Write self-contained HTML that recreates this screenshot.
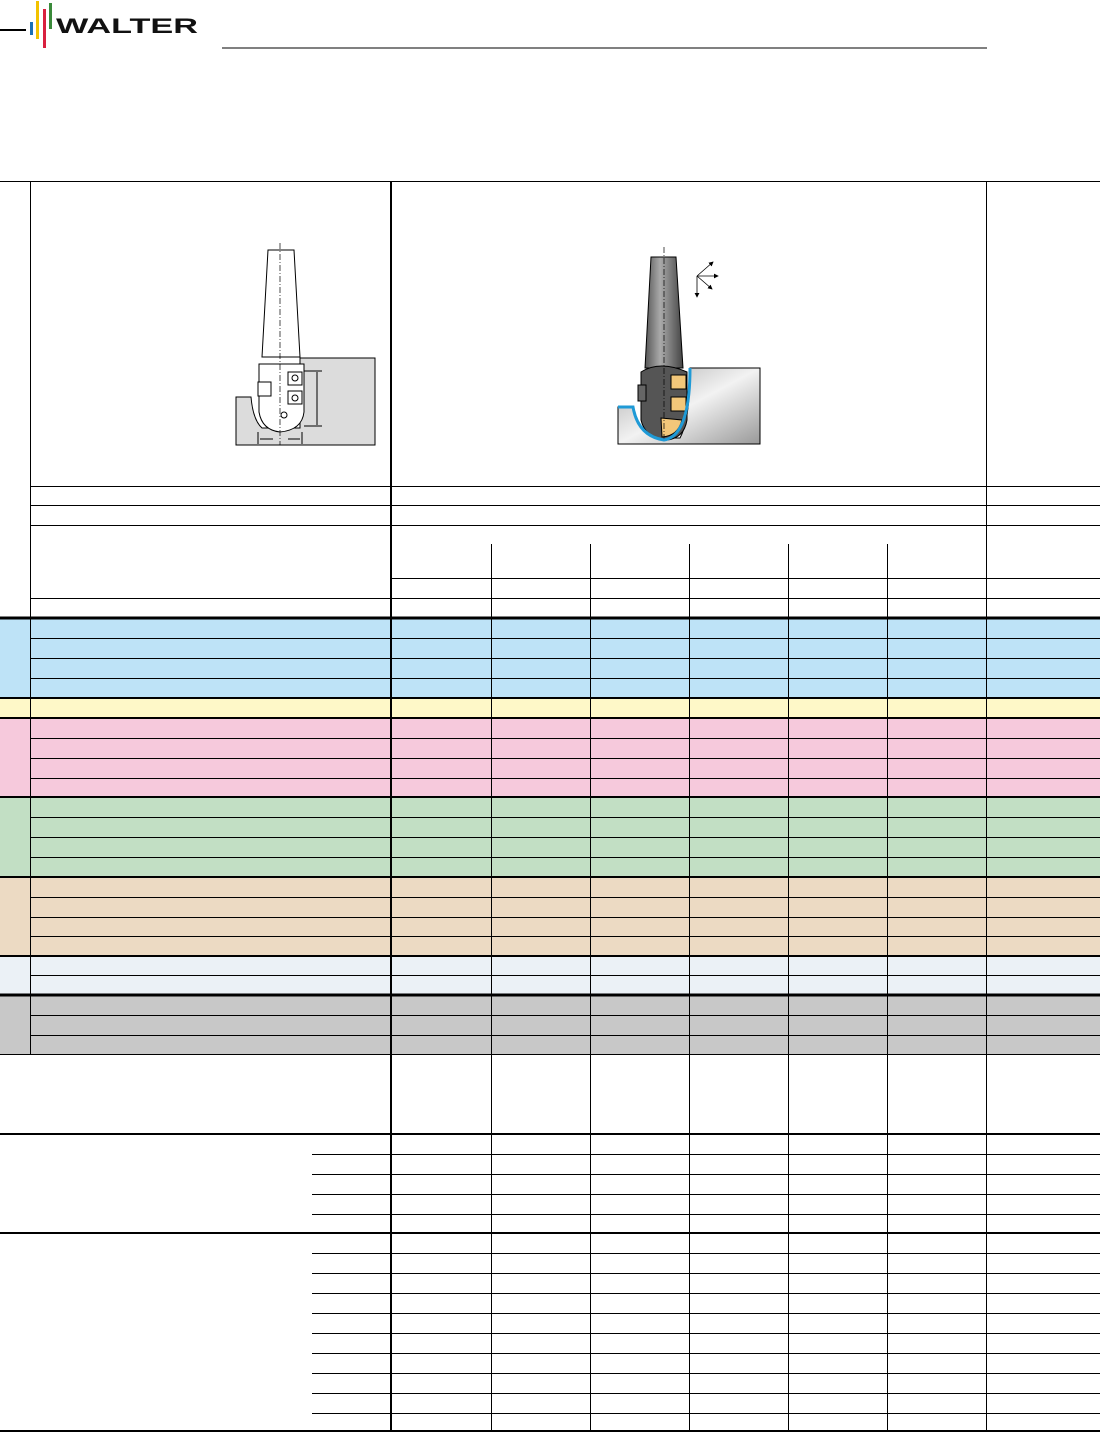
<!DOCTYPE html>
<html><head><meta charset="utf-8"><style>
html,body{margin:0;padding:0;background:#fff}
svg{display:block}
</style></head><body>
<svg width="1100" height="1432" viewBox="0 0 1100 1432" xmlns="http://www.w3.org/2000/svg">
<defs>
<linearGradient id="wp" x1="0" y1="0" x2="1" y2="1"><stop offset="0" stop-color="#aaa"/><stop offset="0.5" stop-color="#f2f2f2"/><stop offset="1" stop-color="#999"/></linearGradient>
<linearGradient id="sh" x1="0" y1="0" x2="1" y2="0"><stop offset="0" stop-color="#555"/><stop offset="0.4" stop-color="#aaa"/><stop offset="1" stop-color="#444"/></linearGradient>
<marker id="ah" markerWidth="6" markerHeight="6" refX="5" refY="3" orient="auto"><path d="M0 0 L6 3 L0 6 Z" fill="#000"/></marker>
</defs>
<!-- logo -->
<line x1="0" y1="30" x2="26" y2="30" stroke="#000" stroke-width="2"/>
<rect x="30" y="22" width="3" height="13" fill="#1a6fb5"/>
<rect x="36" y="1" width="3" height="38" fill="#f2c200"/>
<rect x="43" y="9" width="3" height="39" fill="#d9203f"/>
<rect x="49" y="3" width="3" height="26" fill="#3a8a3a"/>
<text x="56" y="33" font-family="Liberation Sans, sans-serif" font-size="21" font-weight="bold" fill="#111" textLength="142" lengthAdjust="spacingAndGlyphs">WALTER</text>
<line x1="222" y1="48" x2="987" y2="48" stroke="#000" stroke-width="1"/>

<!-- colored bands -->
<rect x="0" y="618" width="1100" height="80" fill="#bee3f7"/>
<rect x="0" y="698" width="1100" height="20" fill="#fef8c8"/>
<rect x="0" y="718" width="1100" height="79" fill="#f6c9dc"/>
<rect x="0" y="797" width="1100" height="80" fill="#c2dfc4"/>
<rect x="0" y="877" width="1100" height="79" fill="#ecdac3"/>
<rect x="0" y="956" width="1100" height="39" fill="#ebf1f6"/>
<rect x="0" y="995" width="1100" height="59" fill="#c8c8c8"/>

<g stroke="#000" fill="none" shape-rendering="crispEdges">
<line x1="0" y1="181.5" x2="1100" y2="181.5" stroke-width="1"/>
<line x1="30.5" y1="181" x2="30.5" y2="1054"/>
<line x1="391" y1="181" x2="391" y2="1432" stroke-width="2"/>
<line x1="986.5" y1="181" x2="986.5" y2="1432"/>
<line x1="30" y1="486.5" x2="1100" y2="486.5"/>
<line x1="30" y1="505.5" x2="1100" y2="505.5"/>
<line x1="30" y1="525.5" x2="1100" y2="525.5"/>
<line x1="391" y1="578.5" x2="1100" y2="578.5"/>
<line x1="30" y1="598.5" x2="1100" y2="598.5"/>
<g>
<line x1="491.5" y1="544" x2="491.5" y2="1432"/>
<line x1="590.5" y1="544" x2="590.5" y2="1432"/>
<line x1="689.5" y1="544" x2="689.5" y2="1432"/>
<line x1="788.5" y1="544" x2="788.5" y2="1432"/>
<line x1="887.5" y1="544" x2="887.5" y2="1432"/>
</g>
<line x1="0" y1="618" x2="1100" y2="618" stroke-width="3"/>
<g stroke-width="1">
<line x1="30" y1="638.5" x2="1100" y2="638.5"/>
<line x1="30" y1="658.5" x2="1100" y2="658.5"/>
<line x1="30" y1="678.5" x2="1100" y2="678.5"/>
<line x1="30" y1="738.5" x2="1100" y2="738.5"/>
<line x1="30" y1="758.5" x2="1100" y2="758.5"/>
<line x1="30" y1="778.5" x2="1100" y2="778.5"/>
<line x1="30" y1="817.5" x2="1100" y2="817.5"/>
<line x1="30" y1="837.5" x2="1100" y2="837.5"/>
<line x1="30" y1="857.5" x2="1100" y2="857.5"/>
<line x1="30" y1="897.5" x2="1100" y2="897.5"/>
<line x1="30" y1="917.5" x2="1100" y2="917.5"/>
<line x1="30" y1="936.5" x2="1100" y2="936.5"/>
<line x1="30" y1="975.5" x2="1100" y2="975.5"/>
<line x1="30" y1="1015.5" x2="1100" y2="1015.5"/>
<line x1="30" y1="1035.5" x2="1100" y2="1035.5"/>
</g>
<g stroke-width="2">
<line x1="0" y1="698" x2="1100" y2="698"/>
<line x1="0" y1="718" x2="1100" y2="718"/>
<line x1="0" y1="797" x2="1100" y2="797"/>
<line x1="0" y1="877" x2="1100" y2="877"/>
<line x1="0" y1="956" x2="1100" y2="956"/>
<line x1="0" y1="995" x2="1100" y2="995" stroke-width="3"/>
<line x1="0" y1="1054.5" x2="1100" y2="1054.5" stroke-width="1"/>
</g>
<line x1="0" y1="1134" x2="1100" y2="1134" stroke-width="2"/>
<line x1="0" y1="1233" x2="1100" y2="1233" stroke-width="2"/>
<line x1="0" y1="1431" x2="1100" y2="1431" stroke-width="2"/>
<g stroke-width="1">
<line x1="312" y1="1154.5" x2="1100" y2="1154.5"/>
<line x1="312" y1="1174.5" x2="1100" y2="1174.5"/>
<line x1="312" y1="1194.5" x2="1100" y2="1194.5"/>
<line x1="312" y1="1214.5" x2="1100" y2="1214.5"/>
<line x1="312" y1="1253.5" x2="1100" y2="1253.5"/>
<line x1="312" y1="1273.5" x2="1100" y2="1273.5"/>
<line x1="312" y1="1293.5" x2="1100" y2="1293.5"/>
<line x1="312" y1="1313.5" x2="1100" y2="1313.5"/>
<line x1="312" y1="1333.5" x2="1100" y2="1333.5"/>
<line x1="312" y1="1353.5" x2="1100" y2="1353.5"/>
<line x1="312" y1="1373.5" x2="1100" y2="1373.5"/>
<line x1="312" y1="1393.5" x2="1100" y2="1393.5"/>
<line x1="312" y1="1413.5" x2="1100" y2="1413.5"/>
</g>
</g>

<!-- left drawing -->
<g stroke="#000" stroke-width="1">
<path d="M236 397 H251 Q253 420 262 428 L300 428 V358 H375 V445 H236 Z" fill="#dcdcdc"/>
<path d="M268 250 H294 L300 357 H262 Z" fill="#fff"/>
<line x1="262" y1="357" x2="300" y2="357"/>
<path d="M259 364 V412 Q262 430 280 432 Q302 430 304 412 V364 Z" fill="#fff"/>
<rect x="258" y="382" width="13" height="14" fill="#fff"/>
<rect x="288" y="372" width="14" height="13" fill="#fff"/>
<rect x="288" y="391" width="14" height="13" fill="#fff"/>
<circle cx="295" cy="378" r="3" fill="none"/>
<circle cx="295" cy="398" r="3" fill="none"/>
<circle cx="284" cy="415" r="3" fill="none"/>
<line x1="280" y1="243" x2="280" y2="445" stroke-dasharray="6,2,1,2" stroke-width="0.7"/>
<line x1="304" y1="371" x2="322" y2="371"/>
<line x1="304" y1="426" x2="322" y2="426"/>
<line x1="317" y1="372" x2="317" y2="425"/>
<line x1="258" y1="432" x2="258" y2="444"/>
<line x1="302" y1="432" x2="302" y2="444"/>
<line x1="260" y1="439" x2="273" y2="439"/>
<line x1="288" y1="439" x2="300" y2="439"/>
</g>

<!-- right drawing -->
<g stroke="#000" stroke-width="1">
<path d="M618 407 H633 Q637 432 660 438 L680 438 Q690 420 690 368 H760 V444 H618 Z" fill="url(#wp)"/>
<path d="M651 257 H676 L683 368 H645 Z" fill="url(#sh)"/>
<path d="M641 372 Q660 360 687 372 V420 Q684 438 667 440 Q645 438 641 420 Z" fill="#555"/>
<rect x="638" y="385" width="8" height="16" fill="#666"/>
<rect x="671" y="375" width="15" height="14" fill="#f2c77a"/>
<rect x="671" y="397" width="15" height="14" fill="#f2c77a"/>
<path d="M661 418 L682 420 Q678 436 662 437 Z" fill="#f2c77a"/>
<line x1="664" y1="247" x2="664" y2="440" stroke-width="0.7" stroke-dasharray="6,2,1,2"/>
<line x1="697" y1="276" x2="713" y2="262" stroke-width="0.8" marker-end="url(#ah)"/>
<line x1="697" y1="276" x2="718" y2="276" stroke-width="0.8" marker-end="url(#ah)"/>
<line x1="697" y1="276" x2="712" y2="289" stroke-width="0.8" marker-end="url(#ah)"/>
<line x1="697" y1="276" x2="697" y2="297" stroke-width="0.8" marker-end="url(#ah)"/>
</g>
<path d="M618 407 H633 Q638 436 664 440 Q690 436 690 368" fill="none" stroke="#1f9ad6" stroke-width="3"/>
</svg>
</body></html>
